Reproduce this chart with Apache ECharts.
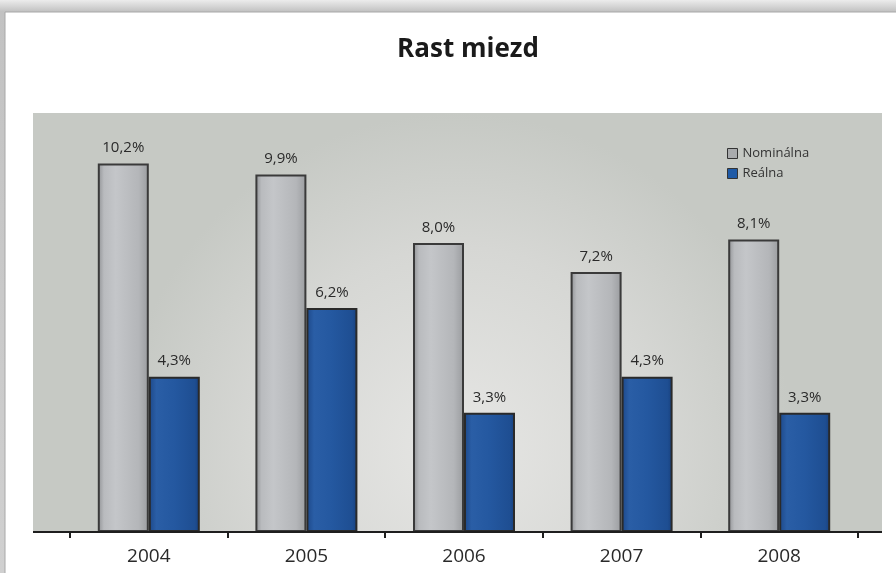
<!DOCTYPE html>
<html>
<head>
<meta charset="utf-8">
<script src="https://cdn.jsdelivr.net/npm/echarts@6/dist/echarts.min.js"></script>
<style>html,body{margin:0;padding:0;background:#fff;}#c{width:896px;height:573px;}</style>
</head>
<body>
<div id="c"></div>
<script>
const categories = ['2004', '2005', '2006', '2007', '2008'];
const nominal = [10.2, 9.9, 8.0, 7.2, 8.1];
const real = [4.3, 6.2, 3.3, 4.3, 3.3];
const seriesNames = ['Nominálna', 'Reálna'];

const chart = echarts.init(document.getElementById('c'));
const fmt = p => p.value.toFixed(1).replace('.', ',') + '%';

const grayFill = new echarts.graphic.LinearGradient(0, 0, 1, 0, [
  {offset: 0, color: '#8f9194'},
  {offset: 0.12, color: '#b9bbbe'},
  {offset: 0.35, color: '#c4c6c9'},
  {offset: 0.8, color: '#b4b6b9'},
  {offset: 1, color: '#9a9c9f'}
]);
const blueFill = new echarts.graphic.LinearGradient(0, 0, 1, 0, [
  {offset: 0, color: '#1c4788'},
  {offset: 0.15, color: '#2a5ea6'},
  {offset: 0.5, color: '#2458a0'},
  {offset: 0.9, color: '#1e4e92'},
  {offset: 1, color: '#173f7c'}
]);

chart.setOption({
  animation: false,
  backgroundColor: '#ffffff',
  graphic: [
    {type: 'rect', silent: true, z: -10, shape: {x: 0, y: 0, width: 896, height: 573},
     style: {fill: new echarts.graphic.LinearGradient(0, 0, 0, 1, [
       {offset: 0, color: '#ececec'}, {offset: 0.02, color: '#c2c2c2'}, {offset: 1, color: '#d0d0d0'}])}},
    {type: 'rect', silent: true, z: -9, shape: {x: 5, y: 12, width: 896, height: 573},
     style: {fill: '#ffffff', stroke: '#a8a8a8', lineWidth: 1}},
    {type: 'rect', silent: true, z: -8, shape: {x: 33, y: 113, width: 849, height: 419},
     style: {fill: new echarts.graphic.RadialGradient(0.5, 0.8, 0.8, [
       {offset: 0, color: '#e6e6e4'}, {offset: 0.6, color: '#d6d7d4'}, {offset: 1, color: '#c6c9c4'}])}},
    {type: 'line', silent: true, z: 10, shape: {x1: 33, y1: 532, x2: 882, y2: 532},
     style: {stroke: '#1e1e1e', lineWidth: 2}}
  ],
  title: {
    text: 'Rast miezd', left: 463, top: 32, textAlign: 'center',
    textStyle: {fontFamily: 'Open Sans', fontWeight: 'bold', fontSize: 26, color: '#1a1a1a'}
  },
  legend: {
    orient: 'vertical', left: 722, top: 142, itemWidth: 10, itemHeight: 10, itemGap: 7,
    icon: 'rect',
    textStyle: {fontFamily: 'Open Sans', fontSize: 13, color: '#333'},
    data: [
      {name: seriesNames[0], itemStyle: {color: '#a9abad', borderColor: '#333', borderWidth: 1}},
      {name: seriesNames[1], itemStyle: {color: '#1f5aa6', borderColor: '#333', borderWidth: 1}}
    ]
  },
  grid: {left: 70, right: 38, top: 113, bottom: 41, containLabel: false},
  xAxis: {
    type: 'category', data: categories,
    axisLine: {show: false},
    axisTick: {show: true, length: 6, lineStyle: {color: '#1e1e1e', width: 2}},
    axisLabel: {fontFamily: 'Open Sans', fontSize: 19, color: '#2a2a2a', margin: 15}
  },
  yAxis: {type: 'value', min: 0, max: 11.6, show: false, splitLine: {show: false}},
  series: [
    {
      name: seriesNames[0], type: 'bar', data: nominal, barWidth: 51, barGap: '0%',
      itemStyle: {color: grayFill, borderColor: '#3a3a3a', borderWidth: 2},
      label: {show: true, position: 'top', distance: 8, formatter: fmt,
              fontFamily: 'Open Sans', fontSize: 15, color: '#2a2a2a'}
    },
    {
      name: seriesNames[1], type: 'bar', data: real, barWidth: 51,
      itemStyle: {color: blueFill, borderColor: '#2a2a2a', borderWidth: 2},
      label: {show: true, position: 'top', distance: 8, formatter: fmt,
              fontFamily: 'Open Sans', fontSize: 15, color: '#2a2a2a'}
    }
  ]
});
</script>
</body>
</html>
